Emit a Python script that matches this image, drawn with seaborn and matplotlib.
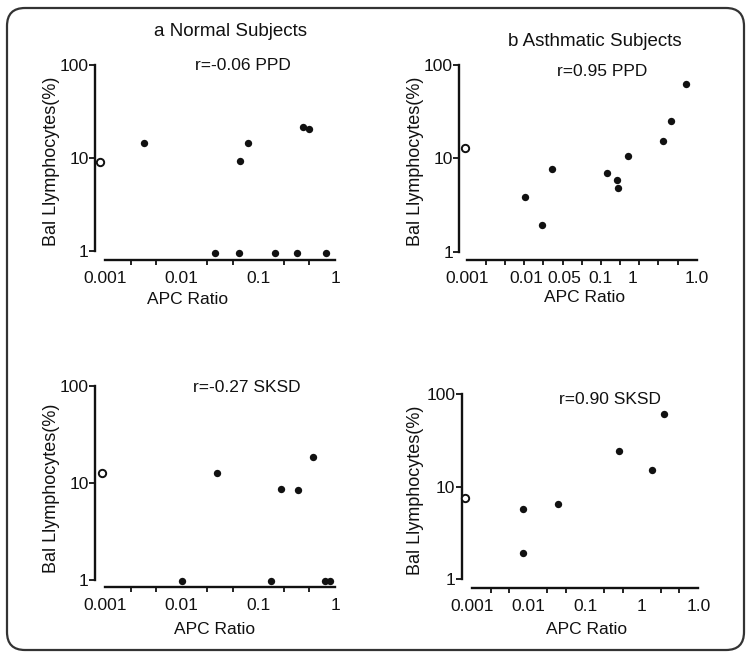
import numpy as np
import pandas as pd
import matplotlib
matplotlib.use("Agg")
import matplotlib.pyplot as plt
from matplotlib.patches import FancyBboxPatch
from matplotlib.ticker import FixedLocator, NullFormatter
import seaborn as sns

# ---------------- data ----------------
titles = ["a Normal Subjects", "b Asthmatic Subjects"]
annotations = ["r=-0.06 PPD", "r=0.95 PPD", "r=-0.27 SKSD", "r=0.90 SKSD"]
x_label = "APC Ratio"
y_label = "Bal Llymphocytes(%)"
y_tick_labels = ["1", "10", "100"]

# panel a: normal subjects, PPD
a_x = [0.00086, 0.0032, 0.027, 0.056, 0.058, 0.074, 0.165, 0.32, 0.38, 0.46, 0.76]
a_y = [9.1, 14.4, 0.94, 0.94, 9.35, 14.4, 0.94, 0.94, 21.4, 20.4, 0.94]
a_open = [True, False, False, False, False, False, False, False, False, False, False]

# panel b: asthmatic subjects, PPD
b_x = [0.00093, 0.0103, 0.0207, 0.030, 0.279, 0.406, 0.42, 0.647, 2.56, 3.62, 6.5]
b_y = [13.0, 3.83, 1.92, 7.7, 6.9, 5.82, 4.81, 10.6, 15.2, 25.4, 62.5]
b_open = [True, False, False, False, False, False, False, False, False, False, False]

# panel c: normal subjects, SKSD
c_x = [0.00091, 0.0102, 0.029, 0.146, 0.20, 0.326, 0.52, 0.75, 0.86]
c_y = [12.6, 0.98, 12.6, 0.98, 8.6, 8.5, 18.4, 0.98, 0.98]
c_open = [True, False, False, False, False, False, False, False, False]

# panel d: asthmatic subjects, SKSD
d_x = [0.00076, 0.0081, 0.0081, 0.0329, 0.40, 1.50, 2.51]
d_y = [7.6, 5.7, 1.91, 6.5, 24.2, 15.1, 61.7]
d_open = [True, False, False, False, False, False, False]

x_tick_labels_a = ["0.001", "0.01", "0.1", "1"]
x_tick_labels_b = ["0.001", "0.01", "0.05", "0.1", "1", "1.0"]
x_tick_labels_c = ["0.001", "0.01", "0.1", "1"]
x_tick_labels_d = ["0.001", "0.01", "0.1", "1", "1.0"]

# ---------------- style ----------------
sns.set_style("white")
plt.rcParams["font.family"] = ["Liberation Sans", "DejaVu Sans"]

W, H = 747, 655
fig = plt.figure(figsize=(W / 100, H / 100), dpi=100)


def px_rect(left, right, top, bottom):
    return [left / W, 1 - bottom / H, (right - left) / W, (bottom - top) / H]


panels = [
    dict(x=a_x, y=a_y, o=a_open, rect=(95, 340, 58, 260), xl=(-3.130, 0.065), yl=(-0.097, 2.075),
         xmax=0, ticklog=[-3, -2, -1, 0], ticklab=x_tick_labels_a, ann=annotations[0], ann_xy=(242.5, 65),
         ylab_xy=(52, 161), xlab_xy=(188, 299), nminor=3),
    dict(x=b_x, y=b_y, o=b_open, rect=(459.3, 700, 58, 260), xl=(-3.129, 1.057), yl=(-0.089, 2.075),
         xmax=1, ticklog=[-3, -1.97, -1.30, -0.68, -0.12, 1.0], ticklab=x_tick_labels_b, ann=annotations[1],
         ann_xy=(601.7, 71.7), ylab_xy=(415, 161), xlab_xy=(585, 298), nminor=3),
    dict(x=c_x, y=c_y, o=c_open, rect=(95, 340, 379, 587.3), xl=(-3.130, 0.065), yl=(-0.075, 2.072),
         xmax=0, ticklog=[-3, -2, -1, 0], ticklab=x_tick_labels_c, ann=annotations[2], ann_xy=(246.7, 387.7),
         ylab_xy=(52, 488), xlab_xy=(215, 629), nminor=3),
    dict(x=d_x, y=d_y, o=d_open, rect=(461.7, 702, 387, 588.3), xl=(-3.176, 1.064), yl=(-0.097, 2.079),
         xmax=1, ticklog=[-3, -2, -1, 0, 1], ticklab=x_tick_labels_d, ann=annotations[3], ann_xy=(610, 400),
         ylab_xy=(415, 490), xlab_xy=(587, 629), nminor=3),
]

ink = "#111111"
for p in panels:
    ax = fig.add_axes(px_rect(*p["rect"]))
    df = pd.DataFrame({"x": p["x"], "y": p["y"], "open": p["o"]})
    filled = df[~df["open"]]
    hollow = df[df["open"]]
    sns.scatterplot(data=filled, x="x", y="y", ax=ax, color=ink, s=28, linewidth=0,
                    clip_on=False, zorder=5)
    sns.scatterplot(data=hollow, x="x", y="y", ax=ax, facecolor="white", edgecolor=ink, s=28,
                    linewidth=1.4, clip_on=False, zorder=6)
    ax.set_xscale("log")
    ax.set_yscale("log")
    ax.set_xlim(10 ** p["xl"][0], 10 ** p["xl"][1])
    ax.set_ylim(10 ** p["yl"][0], 10 ** p["yl"][1])
    ax.set_xlabel("")
    ax.set_ylabel("")
    for s in ["top", "right"]:
        ax.spines[s].set_visible(False)
    for s in ["left", "bottom"]:
        ax.spines[s].set_color(ink)
        ax.spines[s].set_linewidth(1.7)
    ax.spines["left"].set_bounds(1, 100)
    ax.spines["bottom"].set_bounds(0.001, 10 ** p["xmax"])

    # y ticks
    ax.yaxis.set_major_locator(FixedLocator([1, 10, 100]))
    ax.yaxis.set_minor_locator(FixedLocator([]))
    ax.set_yticklabels(y_tick_labels)
    ax.tick_params(axis="y", which="major", direction="out", length=4, width=1.3, pad=0.5,
                   labelsize=12.5, colors=ink, left=True)

    # x ticks: evenly spaced marks, labels placed separately
    ax.xaxis.set_major_locator(FixedLocator([10 ** v for v in p["ticklog"]]))
    ax.set_xticklabels(p["ticklab"])
    marks = 10 ** np.linspace(-3, p["xmax"], int(round((p["xmax"] + 3) * p["nminor"])) + 1)
    ax.xaxis.set_minor_locator(FixedLocator(marks))
    ax.xaxis.set_minor_formatter(NullFormatter())
    ax.tick_params(axis="x", which="major", length=0, pad=8, labelsize=12.5, colors=ink, bottom=True)
    ax.tick_params(axis="x", which="minor", direction="out", length=3.5, width=1.3, colors=ink, bottom=True)
    ax.set_facecolor("none")

    fig.text(p["ann_xy"][0] / W, 1 - p["ann_xy"][1] / H, p["ann"], ha="center", va="center",
             fontsize=12.5, color=ink)
    fig.text(p["ylab_xy"][0] / W, 1 - p["ylab_xy"][1] / H, y_label, rotation=90, ha="center",
             va="center", fontsize=13, color=ink)
    fig.text(p["xlab_xy"][0] / W, 1 - p["xlab_xy"][1] / H, x_label, ha="center", va="center",
             fontsize=12.5, color=ink)

fig.text(231 / W, 1 - 32 / H, titles[0], ha="center", va="center", fontsize=13.5, color=ink)
fig.text(595 / W, 1 - 42 / H, titles[1], ha="center", va="center", fontsize=13.5, color=ink)

frame = FancyBboxPatch((0.07, 0.05), 7.37, 6.42, boxstyle="round,pad=0,rounding_size=0.18",
                       transform=fig.dpi_scale_trans, fill=False, edgecolor="#333333", linewidth=1.6)
fig.patches.append(frame)

fig.savefig("out.png", dpi=100)
